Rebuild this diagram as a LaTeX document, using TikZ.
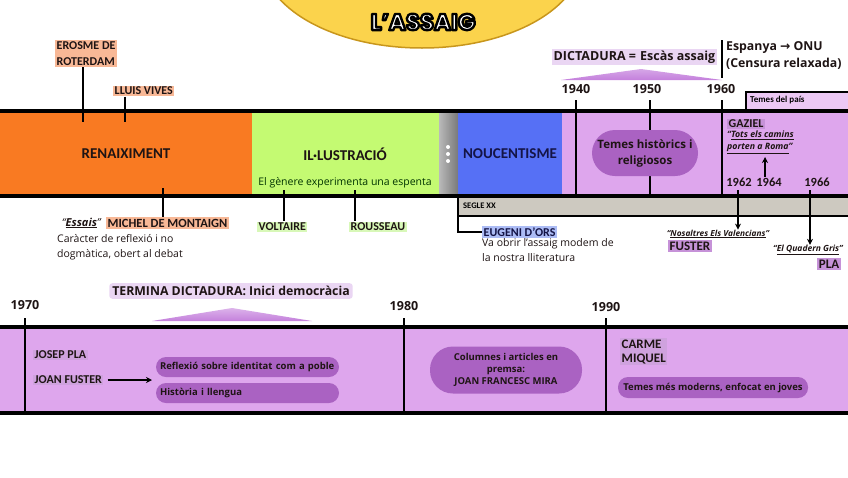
\documentclass[tikz,border=0pt]{standalone}
\usepackage{fontspec}
\setmainfont{Open Sans}
\newfontfamily\calfont{Carlito}
\newfontfamily\dvfont{DejaVu Sans}
\newfontfamily\popfont{Poppins}
\usetikzlibrary{arrows.meta,shadings,calc}
\definecolor{ora}{RGB}{249,122,34}
\definecolor{grn}{RGB}{196,250,114}
\definecolor{blu}{RGB}{86,112,245}
\definecolor{lpur}{RGB}{222,166,237}
\definecolor{pbox}{RGB}{170,98,194}
\definecolor{seg}{RGB}{205,201,192}
\definecolor{salm}{RGB}{248,184,150}
\definecolor{ghl}{RGB}{216,248,184}
\definecolor{bhl}{RGB}{172,188,245}
\definecolor{phl}{RGB}{198,146,216}
\definecolor{dhl}{RGB}{234,214,243}
\definecolor{tpais}{RGB}{236,200,244}
\definecolor{tri}{RGB}{196,128,220}
\definecolor{yel}{RGB}{251,211,76}
\definecolor{gold}{RGB}{200,150,28}
\definecolor{ink}{RGB}{30,20,20}
\definecolor{navy}{RGB}{20,20,70}
\newcommand{\outlined}[1]{\special{pdf:code q 2 Tr 2.4 w 1 j 0 0 0 RG}#1\special{pdf:code Q}}
\begin{document}
\begin{tikzpicture}[x=1pt,y=-1pt,
  lbl/.style={inner sep=1.5pt,text=ink,font=\calfont\bfseries\fontsize{12}{14}\selectfont},
  yr/.style={inner sep=0pt,text=ink,font=\bfseries\fontsize{12.5}{14}\selectfont},
  vline/.style={line width=2pt},
  hline/.style={line width=4pt},
  pb/.style={fill=pbox,text=ink,inner sep=2pt,font=\bfseries\fontsize{9.5}{11}\selectfont},
  body/.style={inner sep=0pt,text=ink,align=left,font=\fontsize{10.5}{15}\selectfont},
  ttl/.style={inner sep=0pt,font=\popfont\bfseries\fontsize{23}{25}\selectfont},
  arr/.style={line width=1.5pt,-{Stealth[length=6pt,width=6pt]}}
]
\useasboundingbox (0,0) rectangle (848,477);
% title
\filldraw[fill=yel,draw=gold,line width=1.5pt] (422,-42) ellipse [x radius=160,y radius=90];
\node[ttl,text=white] (title) at (423,22) {\outlined{L’ASSAIG}};

% top bar
\fill[ora] (0,111) rectangle (252,196);
\fill[grn] (252,111) rectangle (439,196);
\shade[left color=gray!55,right color=gray!95!black] (439,111) rectangle (458,196);
\fill[blu] (458,111) rectangle (562,196);
\fill[lpur] (562,111) rectangle (848,196);
\fill[seg] (458,197) rectangle (848,216);
\draw[vline] (458,216) -- (848,216);
\fill[tpais] (746,92) rectangle (848,111);
\draw[vline] (746,111) -- (746,92) -- (848,92);
\draw[hline] (0,111) -- (848,111);
\draw[hline] (0,196) -- (848,196);
\foreach \x in {576,650,722}{\draw[vline] (\x,100) -- (\x,196);}
\foreach \y in {147,154,161}{\fill[white] (448,\y) circle (2);}

\node[lbl,font=\calfont\bfseries\fontsize{15}{16}\selectfont] (ren) at (126,154) {RENAIXIMENT};
\node[lbl,font=\calfont\bfseries\fontsize{15}{16}\selectfont] (ilu) at (345,154) {IL·LUSTRACIÓ};
\node[body,text=black!80!green] (esp) at (345,183) {El gènere experimenta una espenta};
\node[lbl,text=navy,font=\calfont\bfseries\fontsize{15}{16}\selectfont] (nou) at (510,154) {NOUCENTISME};
\node[pb,rounded corners=23pt,minimum width=106pt,minimum height=46pt,align=center,
  font=\bfseries\fontsize{11.5}{16}\selectfont] (hist) at (645,153) {Temes històrics i\\religiosos};
\node[inner sep=0pt,anchor=west,font=\calfont\bfseries\fontsize{8.5}{9}\selectfont] (seglexx) at (463,206) {SEGLE XX};

% years top
\node[yr] (y40) at (576,89) {1940};
\node[yr] (y50) at (647,89) {1950};
\node[yr] (y60) at (721,89) {1960};
\node[inner sep=0pt,anchor=west,font=\calfont\bfseries\fontsize{9}{9}\selectfont] (pais) at (750,100) {Temes del país};

% dictadura
\node[lbl,fill=dhl,anchor=west,font=\bfseries\fontsize{12.5}{14}\selectfont] (dict) at (552,57) {DICTADURA =\,\,Escàs assaig};
\shade[top color=tri!70,bottom color=tri] (561,80) -- (641,69) -- (722,80) -- cycle;
\coordinate (c60a) at (722,40);
\coordinate (c60b) at (722,78);
\draw[line width=1.2pt] (c60a) -- (c60b);
\node[inner sep=0pt,anchor=west,text=ink,align=left,font=\bfseries\fontsize{12.3}{17}\selectfont] (onu) at (726,56) {Espanya {\dvfont→} ONU\\(Censura relaxada)};

% left labels
\node[lbl,fill=salm,anchor=north west,align=left,font=\calfont\bfseries\fontsize{12}{16}\selectfont] (ero) at (55,40) {EROSME DE\\ROTERDAM};
\node[lbl,fill=salm,anchor=west] (viv) at (113,91) {LLUIS VIVES};
\coordinate (cero) at (83,122);
\coordinate (cviv) at (125,122);
\draw[vline] (ero.south -| cero) -- (cero);
\draw[vline] (viv.south -| cviv) -- (cviv);

\node[lbl,fill=salm,anchor=west,font=\calfont\bfseries\fontsize{12.5}{14}\selectfont] (mon) at (106,223) {MICHEL DE MONTAIGN};
\coordinate (cmon) at (163,188);
\draw[vline] (cmon) -- (mon.north -| cmon);
\node[inner sep=0pt,anchor=east,text=ink,font=\fontsize{11}{12}\selectfont] (ess) at (101,223) {\itshape “\underline{\bfseries Essais}”};
\node[body,anchor=north west] (car) at (57,234) {Caràcter de reflexió i no\\dogmàtica, obert al debat};

\node[lbl,fill=ghl,anchor=west] (vol) at (257,227) {VOLTAIRE};
\node[lbl,fill=ghl,anchor=west] (rou) at (349,227) {ROUSSEAU};
\coordinate (cvol) at (284,190);
\coordinate (crou) at (355,190);
\draw[vline] (cvol) -- (vol.north -| cvol);
\draw[vline] (crou) -- (rou.north -| crou);

\node[lbl,fill=bhl,anchor=west,text=navy] (eug) at (482,232) {EUGENI D’ORS};
\coordinate (ceug) at (458,196);
\draw[vline] (ceug) |- (eug.west);
\node[body,anchor=north west] (obrir) at (482,238) {Va obrir l’assaig modem de\\la nostra lliteratura};

% right labels
\node[lbl,fill=phl,anchor=west] (gaz) at (727,124) {GAZIEL};
\node[inner sep=0pt,anchor=north west,align=left,text=ink,font=\bfseries\itshape\fontsize{8.8}{12}\selectfont] (tots) at (727,131) {“\underline{Tots els camins}\\\underline{porten a Roma}”};
\node[yr,font=\calfont\bfseries\fontsize{12.5}{14}\selectfont] (y62) at (739,182) {1962};
\node[yr,font=\calfont\bfseries\fontsize{12.5}{14}\selectfont] (y64) at (769,182) {1964};
\node[yr,font=\calfont\bfseries\fontsize{12.5}{14}\selectfont] (y66) at (817,182) {1966};
\coordinate (ctots) at (765,157);
\draw[arr] (y64.north -| ctots) -- (ctots);
\node[inner sep=0pt,text=ink,font=\bfseries\itshape\fontsize{8.3}{9}\selectfont] (nos) at (718,234) {“\underline{Nosaltres Els Valencians}”};
\node[lbl,fill=phl,anchor=west,font=\calfont\bfseries\fontsize{13}{14}\selectfont] (fus) at (668,246) {FUSTER};
\coordinate (c62) at (738,190);
\draw[arr] (c62) -- (nos.north -| c62);
\node[inner sep=0pt,text=ink,font=\bfseries\itshape\fontsize{8.5}{9}\selectfont] (quad) at (808,250) {“\underline{El Quadern Gris}”};
\node[lbl,fill=phl,font=\calfont\bfseries\fontsize{13}{14}\selectfont] (pla) at (829,264) {PLA};
\coordinate (c66) at (810,190);
\draw[arr] (c66) -- (quad.north -| c66);

% bottom bar
\fill[lpur] (0,327) rectangle (848,413);
\draw[hline] (0,327) -- (848,327);
\draw[hline] (0,413) -- (848,413);
\foreach \x in {25,404,606}{\draw[vline] (\x,318) -- (\x,413);}
\node[yr] (y70) at (25,305) {1970};
\node[yr] (y80) at (404,306) {1980};
\node[yr] (y90) at (606,307) {1990};
\node[lbl,fill=dhl,rounded corners=3pt,inner sep=3pt,font=\bfseries\fontsize{12.3}{14}\selectfont] (term) at (231,291) {TERMINA DICTADURA: Inici democràcia};
\shade[top color=tri!60,bottom color=tri] (152,321) -- (232,308) -- (312,321) -- cycle;

\node[lbl,fill=phl!85,anchor=west] (jpla) at (33,355) {JOSEP PLA};
\node[lbl,fill=phl!85,anchor=west] (jfus) at (33,380) {JOAN FUSTER};
\node[pb,rounded corners=10pt,minimum width=183pt,minimum height=20pt,text width=175pt,align=left] (refl) at (247.5,367) {Reflexió sobre identitat com a poble};
\node[pb,rounded corners=10pt,minimum width=183pt,minimum height=20pt,text width=175pt,align=left] (hist2) at (247.5,393) {Història i llengua};
\coordinate (carr) at (152,380);
\draw[arr] ($(jfus.east)+(4,0)$) -- (carr);

\node[pb,rounded corners=23pt,minimum width=152pt,minimum height=47pt,align=center,font=\bfseries\fontsize{9.5}{12}\selectfont] (col) at (506,370) {Columnes i articles en\\premsa:\\JOAN FRANCESC MIRA};
\node[lbl,fill=phl!85,anchor=north west,align=left,font=\calfont\bfseries\fontsize{13}{14}\selectfont] (carme) at (620,338) {CARME\\MIQUEL};
\node[pb,rounded corners=10pt,minimum width=190pt,minimum height=21pt,font=\bfseries\fontsize{9.5}{12}\selectfont] (mod) at (713,387.5) {Temes més moderns, enfocat en joves};
\end{tikzpicture}
\end{document}
